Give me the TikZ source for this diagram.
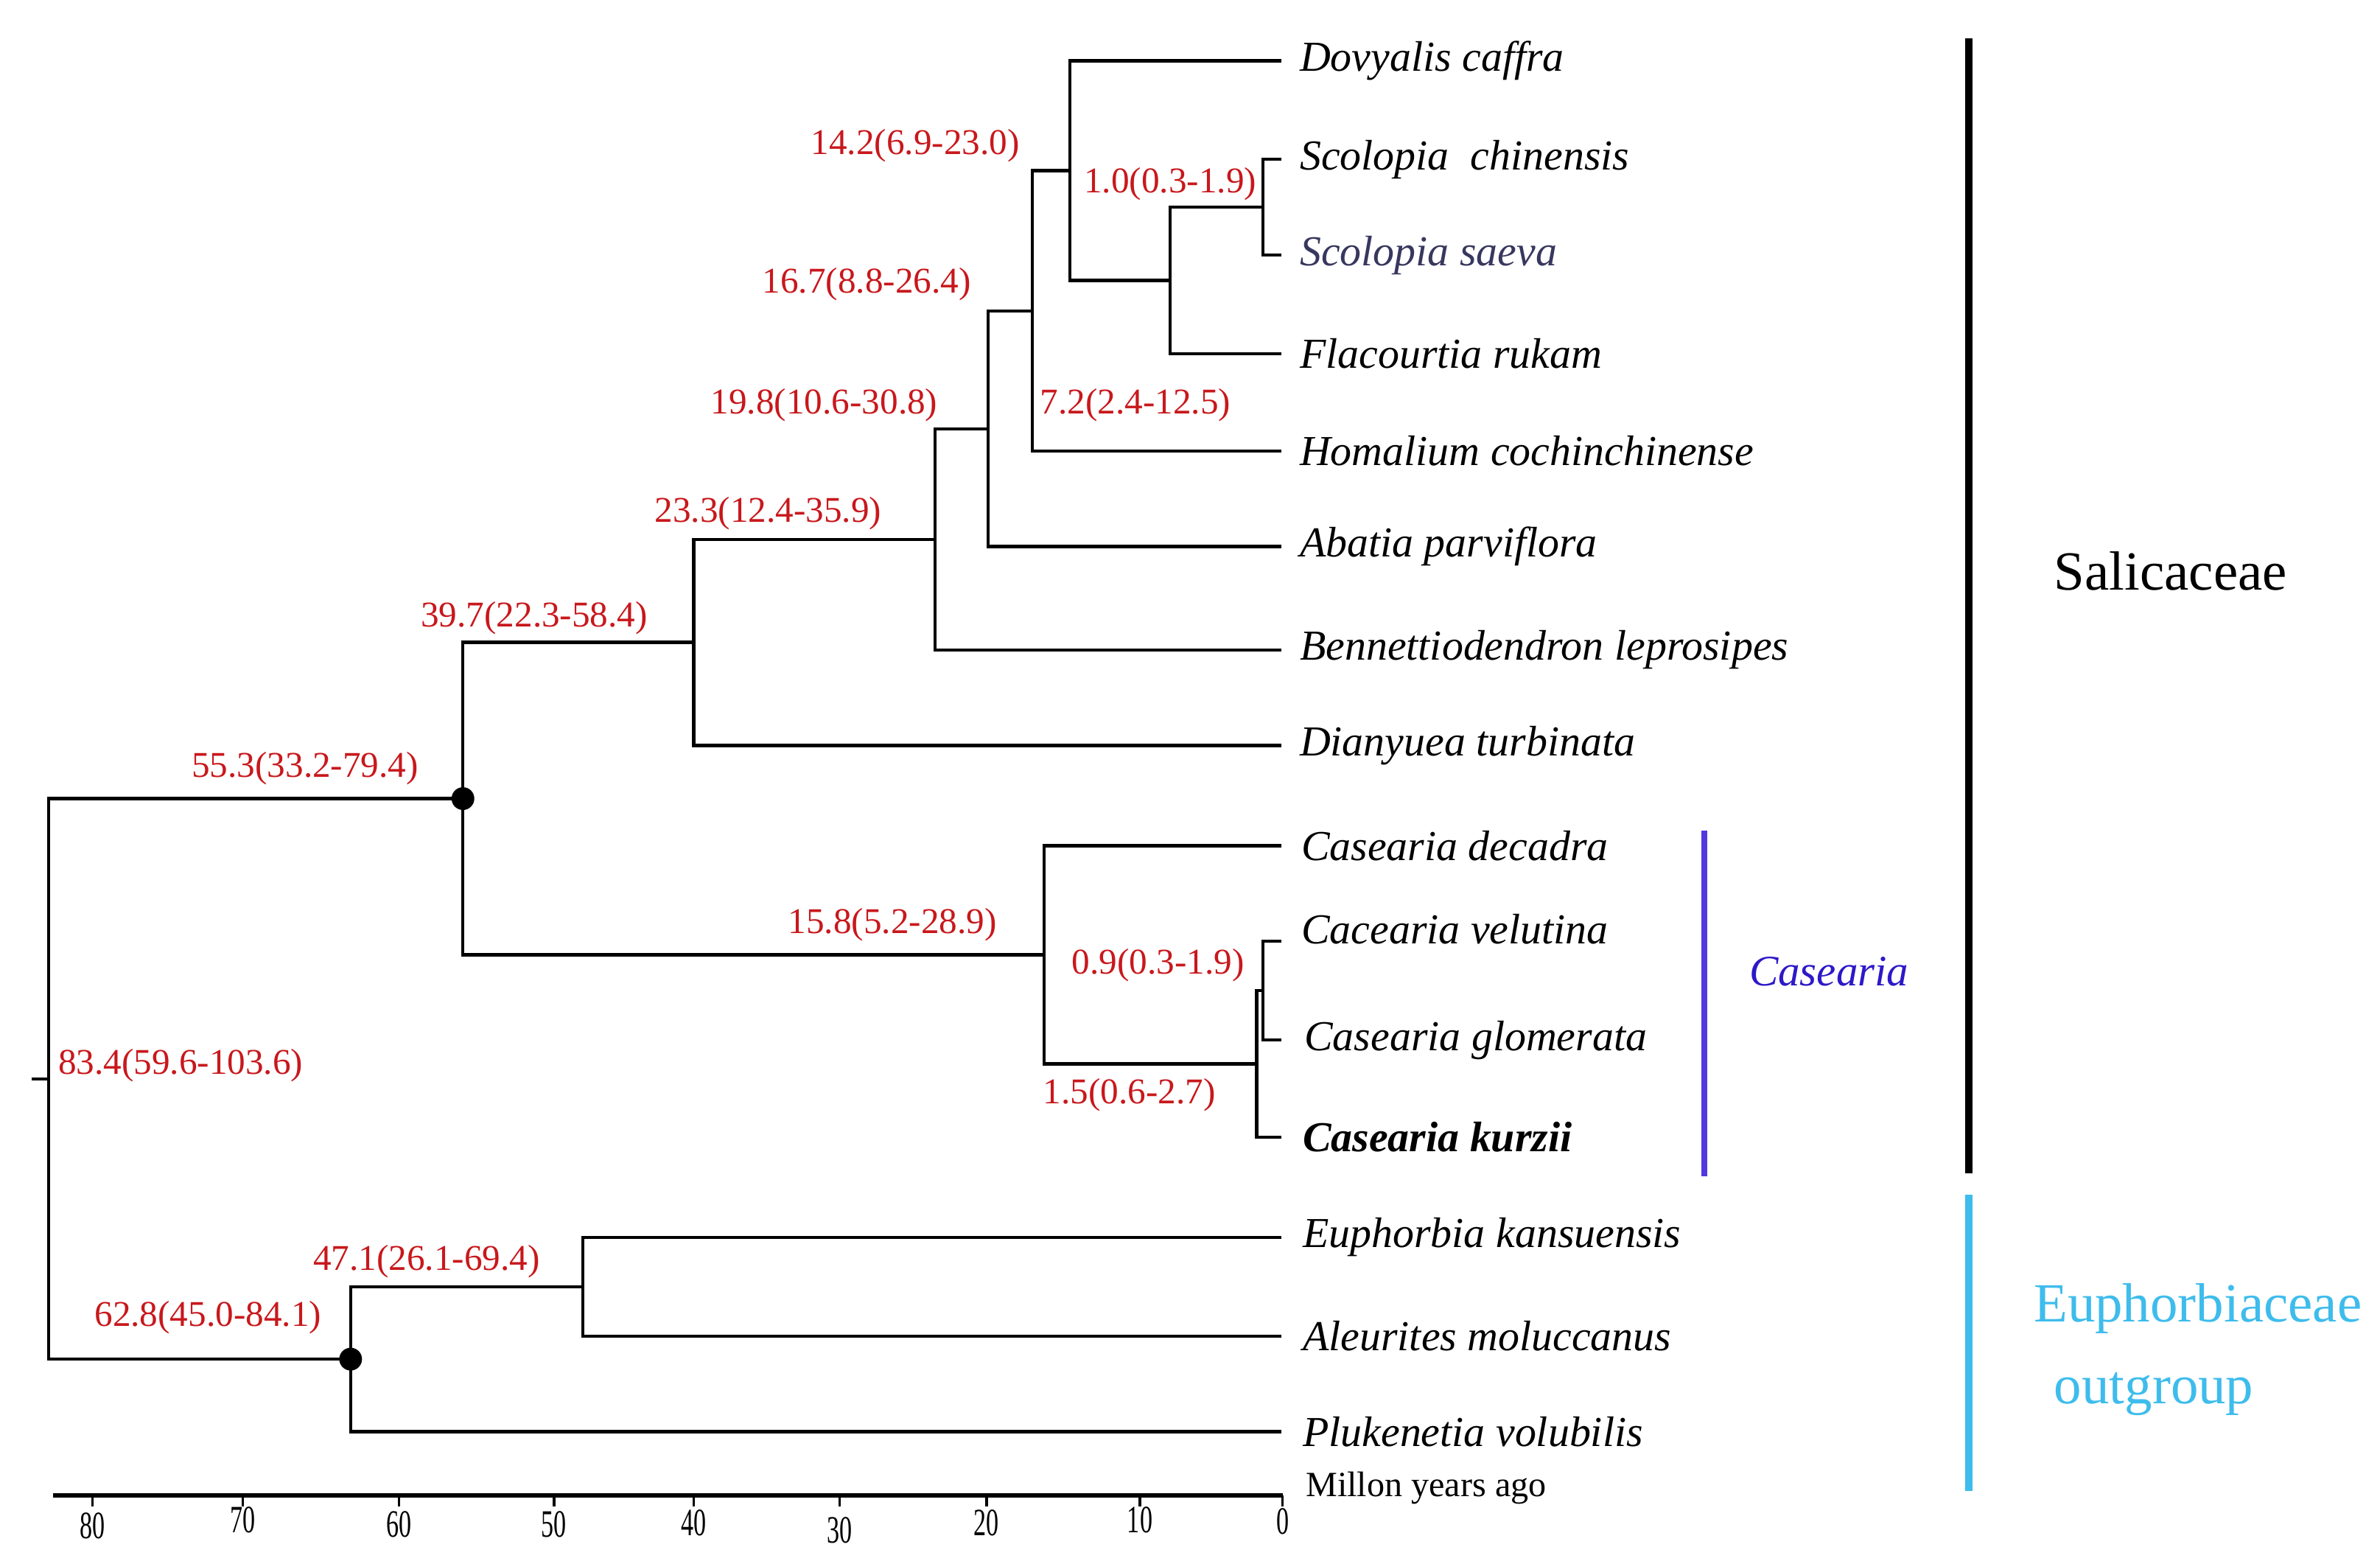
\documentclass[tikz,border=0pt]{standalone}
\usepackage{fontspec}
\setmainfont{Liberation Serif}
\usetikzlibrary{positioning}
\definecolor{agered}{RGB}{200,24,28}
\definecolor{casblue}{RGB}{45,25,200}
\definecolor{casbar}{RGB}{80,55,225}
\definecolor{euphblue}{RGB}{62,188,236}
\definecolor{saevagray}{RGB}{55,55,95}
\tikzset{
  branch/.style={line width=1.2pt,line cap=rect},
  taxon/.style={font=\fontsize{16}{18}\selectfont\itshape,anchor=west,inner sep=0pt},
  age/.style={font=\fontsize{13.6}{15}\selectfont,text=agered,inner sep=0pt},
  ticklab/.style={font=\fontsize{14.5}{16}\selectfont,xscale=0.65,inner sep=0pt},
  grplab/.style={font=\fontsize{20.7}{24}\selectfont,inner sep=0pt},
}

\begin{document}
\begin{tikzpicture}[x=0.02cm,y=-0.02cm]
\useasboundingbox (0,0) rectangle (1568,1028);

% tips
\coordinate (dov) at (843,40);
\coordinate (sch) at (843,105);
\coordinate (ssa) at (843,168);
\coordinate (fla) at (843,233);
\coordinate (hom) at (843,297);
\coordinate (aba) at (843,360);
\coordinate (ben) at (843,428);
\coordinate (dia) at (843,491);
\coordinate (cde) at (843,557);
\coordinate (cve) at (843,620);
\coordinate (cgl) at (843,685);
\coordinate (cku) at (843,749);
\coordinate (eka) at (843,815);
\coordinate (amo) at (843,880);
\coordinate (pvo) at (843,943);

% internal nodes
\coordinate (n10) at (832,136.5);
\coordinate (n72) at (771,184.7);
\coordinate (n142) at (705,112.4);
\coordinate (n167) at (680,204.7);
\coordinate (n198) at (651,282.4);
\coordinate (n233) at (616,355.2);
\coordinate (n397) at (457,423.1);
\coordinate (n09) at (832,652.5);
\coordinate (n15) at (828,700.7);
\coordinate (n158) at (688,628.9);
\coordinate (n553) at (305,526);
\coordinate (n471) at (384,847.5);
\coordinate (n628) at (231,895.2);
\coordinate (n834) at (32,710.6);
\coordinate (root) at (22,710.6);

\foreach \a/\b in {n10/sch,n10/ssa,n72/n10,n72/fla,n142/dov,n142/n72,n167/n142,n167/hom,
  n198/n167,n198/aba,n233/n198,n233/ben,n397/n233,n397/dia,n553/n397,n553/n158,
  n158/cde,n158/n15,n15/n09,n15/cku,n09/cve,n09/cgl,n834/n553,n834/n628,
  n628/n471,n628/pvo,n471/eka,n471/amo}
  \draw[branch] (\a) |- (\b);
\draw[branch] (root) -- (n834);
\fill (n553) circle[radius=0.15cm];
\fill (n628) circle[radius=0.15cm];

\node[taxon,right=0.26cm of dov] (tdov) {Dovyalis caffra};
\node[taxon,right=0.26cm of sch] (tsch) {Scolopia\ \ chinensis};
\node[taxon,right=0.26cm of ssa,text=saevagray] (tssa) {Scolopia saeva};
\node[taxon,right=0.26cm of fla] (tfla) {Flacourtia rukam};
\node[taxon,right=0.26cm of hom] (thom) {Homalium cochinchinense};
\node[taxon,right=0.26cm of aba] (taba) {Abatia parviflora};
\node[taxon,right=0.26cm of ben] (tben) {Bennettiodendron leprosipes};
\node[taxon,right=0.26cm of dia] (tdia) {Dianyuea turbinata};
\node[taxon,right=0.28cm of cde] (tcde) {Casearia decadra};
\node[taxon,right=0.28cm of cve,yshift=0.16cm] (tcve) {Cacearia velutina};
\node[taxon,right=0.32cm of cgl] (tcgl) {Casearia glomerata};
\node[taxon,right=0.3cm of cku,font=\fontsize{16}{18}\selectfont\itshape\bfseries] (tcku) {Casearia kurzii};
\node[taxon,right=0.3cm of eka] (teka) {Euphorbia kansuensis};
\node[taxon,right=0.3cm of amo] (tamo) {Aleurites moluccanus};
\node[taxon,right=0.3cm of pvo] (tpvo) {Plukenetia volubilis};

\node[age] (a142) at (603,96) {14.2(6.9-23.0)};
\node[age] (a10) at (771,121) {1.0(0.3-1.9)};
\node[age] (a167) at (571,187) {16.7(8.8-26.4)};
\node[age] (a198) at (543,267) {19.8(10.6-30.8)};
\node[age] (a72) at (748,267) {7.2(2.4-12.5)};
\node[age] (a233) at (506,338) {23.3(12.4-35.9)};
\node[age] (a397) at (352,407) {39.7(22.3-58.4)};
\node[age] (a553) at (201,506) {55.3(33.2-79.4)};
\node[age] (a158) at (588,609) {15.8(5.2-28.9)};
\node[age] (a09) at (763,636) {0.9(0.3-1.9)};
\node[age] (a15) at (744,721) {1.5(0.6-2.7)};
\node[age] (a834) at (119,702) {83.4(59.6-103.6)};
\node[age] (a471) at (281,831) {47.1(26.1-69.4)};
\node[age] (a628) at (137,868) {62.8(45.0-84.1)};

% groups
\coordinate (salTop) at (1297,25);
\coordinate (salBot) at (1297,773);
\coordinate (eupTop) at (1297,787);
\coordinate (eupBot) at (1297,982);
\coordinate (casTop) at (1123,547);
\coordinate (casBot) at (1123,775);
\draw[line width=2.8pt] (salTop) -- (salBot);
\draw[line width=2.8pt,euphblue] (eupTop) -- (eupBot);
\draw[line width=2.2pt,casbar] (casTop) -- (casBot);
\node[grplab] (sal) at (1430,376) {Salicaceae};
\node[grplab,text=euphblue] (eup) at (1448,862) {Euphorbiaceae};
\node[grplab,text=euphblue] (outg) at (1419,918) {outgroup};
\node[font=\fontsize{16.3}{18}\selectfont\itshape,text=casblue] (cas) at (1205,640) {Casearia};

% time axis
\coordinate (ax0) at (35,985);
\coordinate (ax1) at (845,985);
\draw[line width=1.5pt] (ax0) -- (ax1);
\foreach \t/\x/\y in {80/61/1005,70/160/1001,60/263/1004,50/365/1004,40/457/1003,30/553/1008,20/650/1003,10/751/1001,0/845/1002}{
  \draw[line width=0.9pt] (\x,985) -- (\x,992);
  \node[ticklab] (t\t) at (\x,\y) {\t};
}
\node[font=\fontsize{13.3}{15}\selectfont,anchor=west,inner sep=0pt] (myr) at (860,980) {Millon years ago};

\end{tikzpicture}
\end{document}
